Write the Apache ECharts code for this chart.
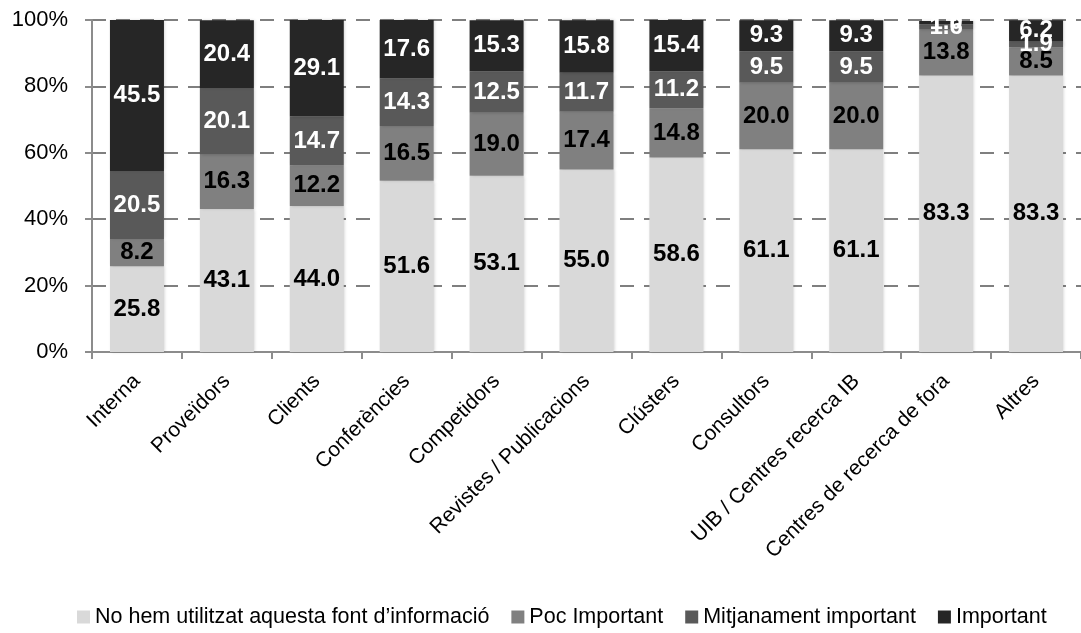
<!DOCTYPE html>
<html>
<head>
<meta charset="utf-8">
<script src="https://cdn.jsdelivr.net/npm/echarts@6/dist/echarts.min.js"></script>
<style>
  html, body { margin: 0; padding: 0; background: #fff; }
  #main { width: 1081px; height: 633px; }
</style>
</head>
<body>
<div id="main"></div>
<script>
// categories (fonts d'informació)
var categories = ['Interna', 'Proveïdors', 'Clients', 'Conferències', 'Competidors',
  'Revistes / Publicacions', 'Clústers', 'Consultors', 'UIB / Centres recerca IB',
  'Centres de recerca de fora', 'Altres'];

var noUtilitzat = [25.8, 43.1, 44.0, 51.6, 53.1, 55.0, 58.6, 61.1, 61.1, 83.3, 83.3];
var pocImportant = [8.2, 16.3, 12.2, 16.5, 19.0, 17.4, 14.8, 20.0, 20.0, 13.8, 8.5];
var mitjanament = [20.5, 20.1, 14.7, 14.3, 12.5, 11.7, 11.2, 9.5, 9.5, 1.6, 1.9];
var important = [45.5, 20.4, 29.1, 17.6, 15.3, 15.8, 15.4, 9.3, 9.3, 1.0, 6.2];

var yTicks = [0, 20, 40, 60, 80, 100];

var font = "'Liberation Sans Narrow', 'Arial Narrow', 'Liberation Sans', Arial, sans-serif";

var chart = echarts.init(document.getElementById('main'));

// una serie apilada
function serie(name, data, color, labelColor) {
  return {
    name: name,
    type: 'bar',
    stack: 'total',
    barWidth: 54,
    data: data,
    itemStyle: {
      color: color,
      shadowColor: 'rgba(0,0,0,0.18)',
      shadowBlur: 3,
      shadowOffsetX: 1
    },
    label: {
      show: true,
      position: 'inside',
      color: labelColor,
      fontFamily: font,
      fontWeight: 'bold',
      fontSize: 24,
      formatter: function (p) { return p.value.toFixed(1); }
    }
  };
}

chart.setOption({
  animation: false,
  textStyle: { fontFamily: font },
  grid: {
    left: 92,
    width: 1004,
    top: 20,
    bottom: 281,
    containLabel: false
  },
  legend: {
    bottom: 0,
    left: 72,
    icon: 'rect',
    itemWidth: 13,
    itemHeight: 13,
    itemGap: 22,
    textStyle: { fontFamily: font, fontSize: 21.5, color: '#000' },
    data: ["No hem utilitzat aquesta font d’informació", 'Poc Important', 'Mitjanament important', 'Important']
  },
  xAxis: {
    type: 'category',
    data: categories,
    axisLine: { lineStyle: { color: '#8c8c8c', width: 2 } },
    axisTick: { show: true, length: 7, lineStyle: { color: '#8c8c8c', width: 2 } },
    axisLabel: {
      rotate: 45,
      interval: 0,
      margin: 26,
      color: '#000',
      fontFamily: font,
      fontSize: 21
    }
  },
  yAxis: {
    type: 'value',
    min: yTicks[0],
    max: yTicks[yTicks.length - 1],
    interval: 20,
    axisLine: { show: true, lineStyle: { color: '#8c8c8c', width: 2 } },
    axisTick: { show: true, length: 7, lineStyle: { color: '#8c8c8c', width: 2 } },
    axisLabel: {
      color: '#000',
      fontFamily: font,
      fontSize: 22,
      margin: 24,
      formatter: function (v) { return v + '%'; }
    },
    splitLine: {
      show: true,
      lineStyle: { color: '#7f7f7f', width: 2, type: [14, 10] }
    }
  },
  series: [
    serie("No hem utilitzat aquesta font d’informació", noUtilitzat, '#d9d9d9', '#000'),
    serie('Poc Important', pocImportant, '#808080', '#000'),
    serie('Mitjanament important', mitjanament, '#595959', '#fff'),
    serie('Important', important, '#262626', '#fff')
  ]
});
</script>
</body>
</html>
